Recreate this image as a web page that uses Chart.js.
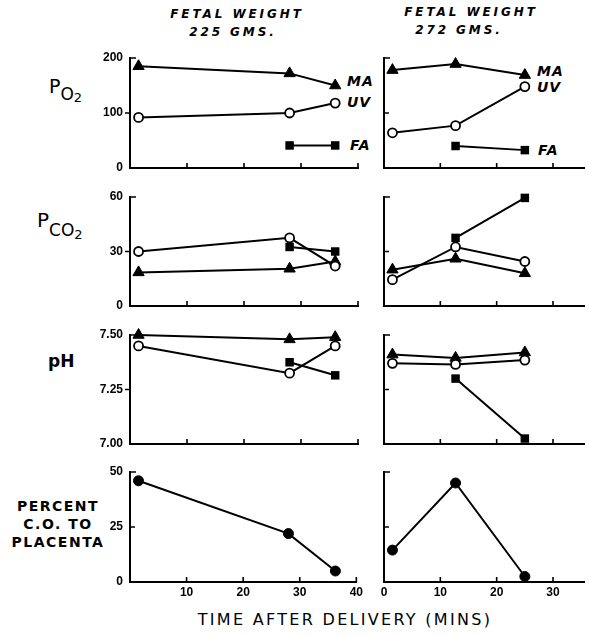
<!DOCTYPE html>
<html>
<head>
<meta charset="utf-8">
<script src="https://cdn.jsdelivr.net/npm/chart.js@4.4.1/dist/chart.umd.min.js"></script>
<style>
	html, body { margin: 0; padding: 0; background: #fff; }
	#fig { position: relative; width: 589px; height: 635px; overflow: hidden; background: #fff; }
	#fig canvas { position: absolute; }
	.txt { position: absolute; white-space: nowrap; color: #000; font-family: 'DejaVu Sans', sans-serif; }
	.head { font-size: 12px; line-height: 12px; font-weight: bold; font-style: italic; letter-spacing: 2.9px; width: 200px; text-align: center; }
	.tag { font-size: 14px; line-height: 14px; font-weight: bold; font-style: italic; letter-spacing: 1px; }
	.rowlab { font-size: 19px; line-height: 19px; }
	.rowlab span { position: relative; }
</style>
</head>
<body>
<div id="fig">
	<div class="txt head" style="left:137px; top:8px;">FETAL WEIGHT</div>
	<div class="txt head" style="left:133px; top:26px;">225 GMS.</div>
	<div class="txt head" style="left:371px; top:6px;">FETAL WEIGHT</div>
	<div class="txt head" style="left:359px; top:24px;">272 GMS.</div>

	<div class="txt rowlab" style="left:49px; top:77px;">P<span style="font-size:17px; top:7px;">O</span><span style="font-size:13px; top:9px;">2</span></div>
	<div class="txt rowlab" style="left:37px; top:211px; font-size:20px;">P<span style="font-size:17px; top:9px;">CO</span><span style="font-size:13px; top:12px;">2</span></div>
	<div class="txt" style="left:48px; top:353px; font-size:17px; line-height:17px; font-weight:bold;">pH</div>
	<div class="txt" style="left:2px; top:497px; width:112px; text-align:center; font-size:14px; line-height:18px; font-weight:bold; letter-spacing:1.5px;">PERCENT<br>C.O. TO<br>PLACENTA</div>

	<div class="txt tag" style="left:347px; top:74px;">MA</div>
	<div class="txt tag" style="left:347px; top:95px;">UV</div>
	<div class="txt tag" style="left:350px; top:138px;">FA</div>
	<div class="txt tag" style="left:537px; top:64px;">MA</div>
	<div class="txt tag" style="left:537px; top:80px;">UV</div>
	<div class="txt tag" style="left:538px; top:143px;">FA</div>

	<div class="txt" style="left:145px; top:612px; width:400px; text-align:center; font-size:16px; line-height:16px; letter-spacing:2.3px;">TIME AFTER DELIVERY (MINS)</div>
</div>
<script>
// fetal weight 225 gms (left column), minutes after delivery
const timeL = [1.5, 28, 36];
const timeFaL = [28, 36];
const timeCoL = [1.5, 28, 36.3];
const po2UvL = [92, 100, 118];
const po2MaL = [185, 172, 150];
const po2FaL = [41, 41];
const pco2UvL = [30, 37.5, 22];
const pco2MaL = [18.5, 20.5, 24.5];
const pco2FaL = [32.5, 30];
const phUvL = [7.45, 7.325, 7.45];
const phMaL = [7.50, 7.48, 7.49];
const phFaL = [7.375, 7.315];
const coL = [46, 22, 5];

// fetal weight 272 gms (right column)
const timeR = [1.5, 12.7, 25];
const timeFaR = [12.7, 25];
const po2UvR = [64, 77, 148];
const po2MaR = [178, 189, 169];
const po2FaR = [40, 32.5];
const pco2UvR = [14.5, 32.5, 24.5];
const pco2MaR = [20, 26, 18];
const pco2FaR = [37.5, 59.5];
const phUvR = [7.37, 7.365, 7.385];
const phMaR = [7.41, 7.395, 7.42];
const phFaR = [7.30, 7.025];
const coR = [14.5, 45, 2.5];

// axis ticks
const xTicksL = [10, 20, 30, 40];
const xTicksR = [0, 10, 20, 30];
const po2Ticks = [0, 100, 200];
const po2TickLabels = ['0', '100', '200'];
const pco2Ticks = [0, 30, 60];
const pco2TickLabels = ['0', '30', '60'];
const phTicks = [7.00, 7.25, 7.50];
const phTickLabels = ['7.00', '7.25', '7.50'];
const coTicks = [0, 25, 50];
const coTickLabels = ['0', '25', '50'];

// plot area positions on the page
// (top pad and x-axis box kept larger than the y label overflow so Chart.js does not shrink the area)
const PAD_TOP = 16;
const PAD_RIGHT = 8;
const layout = {
	L: { areaLeft: 130, areaRight: 358, yAxisW: 60, xMax: 40, xTicks: xTicksL },
	R: { areaLeft: 384, areaRight: 584, yAxisW: 10, xMax: 35.5, xTicks: xTicksR },
	rows: [
		{ top: 58, bottom: 168 },
		{ top: 197, bottom: 306 },
		{ top: 335, bottom: 444 },
		{ top: 472, bottom: 582 },
	],
};

let pts = (times, vals) => times.map((t, i) => ({ x: t, y: vals[i] }));

// marker styles
let styleUV = { pointStyle: 'circle', pointRadius: 4.5, pointBackgroundColor: '#fff', pointBorderColor: '#000', pointBorderWidth: 1.8 };
let styleMA = { pointStyle: 'triangle', pointRadius: 6.5, pointBackgroundColor: '#000', pointBorderColor: '#000', pointBorderWidth: 1 };
let styleFA = { pointStyle: 'rect', pointRadius: 6, pointBackgroundColor: '#000', pointBorderColor: '#000', pointBorderWidth: 0 };
let styleCO = { pointStyle: 'circle', pointRadius: 5, pointBackgroundColor: '#000', pointBorderColor: '#000', pointBorderWidth: 1 };

// small tick marks: x ticks point up into the plot, bracket at top of y axis
let axisTickMarks = {
	id: 'axisTickMarks',
	afterDraw (chart, args, opts) {
		let { ctx, chartArea, scales: { x, y } } = chart;
		ctx.save();
		ctx.strokeStyle = '#000';
		ctx.lineWidth = 1.6;
		ctx.beginPath();
		opts.xTicks.forEach(v => {
			if (v === 0) { return; }
			let px = x.getPixelForValue(v);
			ctx.moveTo(px, chartArea.bottom);
			ctx.lineTo(px, chartArea.bottom - 5);
		});
		let ym = y.getPixelForValue(opts.yMid);
		ctx.moveTo(chartArea.left, ym);
		ctx.lineTo(chartArea.left + 5 * opts.yDir, ym);
		let yt = y.getPixelForValue(y.max);
		ctx.moveTo(chartArea.left - 1, yt);
		ctx.lineTo(chartArea.left + 6, yt);
		ctx.stroke();
		ctx.restore();
	},
};

let fig = document.getElementById('fig');

let makePanel = (col, rowIdx, panel) => {
	let c = layout[col];
	let r = layout.rows[rowIdx];
	let isBottom = rowIdx === 3;
	let xh = isBottom ? 24 : 16;
	let w = c.yAxisW + (c.areaRight - c.areaLeft) + PAD_RIGHT;
	let h = PAD_TOP + (r.bottom - r.top) + xh;

	let canvas = document.createElement('canvas');
	canvas.width = w;
	canvas.height = h;
	canvas.style.left = (c.areaLeft - c.yAxisW) + 'px';
	canvas.style.top = (r.top - PAD_TOP) + 'px';
	canvas.style.width = w + 'px';
	canvas.style.height = h + 'px';
	fig.appendChild(canvas);

	let tickFont = { family: 'Liberation Sans, sans-serif', size: 12, weight: 'bold' };

	return new Chart(canvas, {
		type: 'line',
		data: {
			datasets: panel.series.map(s => ({
				data: s.data,
				borderColor: '#000',
				borderWidth: 2,
				tension: 0,
				clip: false,
				...s.style,
			})),
		},
		options: {
			responsive: false,
			animation: false,
			layout: { padding: { top: PAD_TOP, right: PAD_RIGHT, bottom: 0, left: 0 } },
			plugins: {
				legend: { display: false },
				tooltip: { enabled: false },
				axisTickMarks: { xTicks: c.xTicks, yMid: panel.yTicks[1], yDir: panel.yDir },
			},
			scales: {
				x: {
					type: 'linear',
					min: 0,
					max: c.xMax,
					afterBuildTicks: (scale) => { scale.ticks = c.xTicks.map(v => ({ value: v })); },
					afterFit: (scale) => { scale.height = xh; },
					grid: { display: false, drawTicks: false },
					border: { display: true, color: '#000', width: 2 },
					ticks: { display: isBottom, padding: 3, color: '#000', font: tickFont, maxRotation: 0, autoSkip: false },
				},
				y: {
					type: 'linear',
					min: panel.yTicks[0],
					max: panel.yTicks[2],
					afterBuildTicks: (scale) => { scale.ticks = panel.yTicks.map(v => ({ value: v })); },
					afterFit: (scale) => { scale.width = c.yAxisW; },
					grid: { display: false, drawTicks: false },
					border: { display: true, color: '#000', width: 2 },
					ticks: {
						display: col === 'L',
						padding: 7,
						color: '#000',
						font: tickFont,
						callback: (value, index) => panel.yLabels[index],
					},
				},
			},
		},
		plugins: [ axisTickMarks ],
	});
};

// PO2
makePanel('L', 0, {
	yTicks: po2Ticks, yLabels: po2TickLabels, yDir: -1,
	series: [
		{ data: pts(timeL, po2UvL), style: styleUV },
		{ data: pts(timeL, po2MaL), style: styleMA },
		{ data: pts(timeFaL, po2FaL), style: styleFA },
	],
});
makePanel('R', 0, {
	yTicks: po2Ticks, yLabels: po2TickLabels, yDir: 1,
	series: [
		{ data: pts(timeR, po2UvR), style: styleUV },
		{ data: pts(timeR, po2MaR), style: styleMA },
		{ data: pts(timeFaR, po2FaR), style: styleFA },
	],
});

// PCO2
makePanel('L', 1, {
	yTicks: pco2Ticks, yLabels: pco2TickLabels, yDir: -1,
	series: [
		{ data: pts(timeL, pco2UvL), style: styleUV },
		{ data: pts(timeL, pco2MaL), style: styleMA },
		{ data: pts(timeFaL, pco2FaL), style: styleFA },
	],
});
makePanel('R', 1, {
	yTicks: pco2Ticks, yLabels: pco2TickLabels, yDir: 1,
	series: [
		{ data: pts(timeR, pco2UvR), style: styleUV },
		{ data: pts(timeR, pco2MaR), style: styleMA },
		{ data: pts(timeFaR, pco2FaR), style: styleFA },
	],
});

// pH
makePanel('L', 2, {
	yTicks: phTicks, yLabels: phTickLabels, yDir: -1,
	series: [
		{ data: pts(timeL, phUvL), style: styleUV },
		{ data: pts(timeL, phMaL), style: styleMA },
		{ data: pts(timeFaL, phFaL), style: styleFA },
	],
});
makePanel('R', 2, {
	yTicks: phTicks, yLabels: phTickLabels, yDir: 1,
	series: [
		{ data: pts(timeR, phUvR), style: styleUV },
		{ data: pts(timeR, phMaR), style: styleMA },
		{ data: pts(timeFaR, phFaR), style: styleFA },
	],
});

// percent cardiac output to placenta
makePanel('L', 3, {
	yTicks: coTicks, yLabels: coTickLabels, yDir: 1,
	series: [ { data: pts(timeCoL, coL), style: styleCO } ],
});
makePanel('R', 3, {
	yTicks: coTicks, yLabels: coTickLabels, yDir: 1,
	series: [ { data: pts(timeR, coR), style: styleCO } ],
});
</script>
</body>
</html>
